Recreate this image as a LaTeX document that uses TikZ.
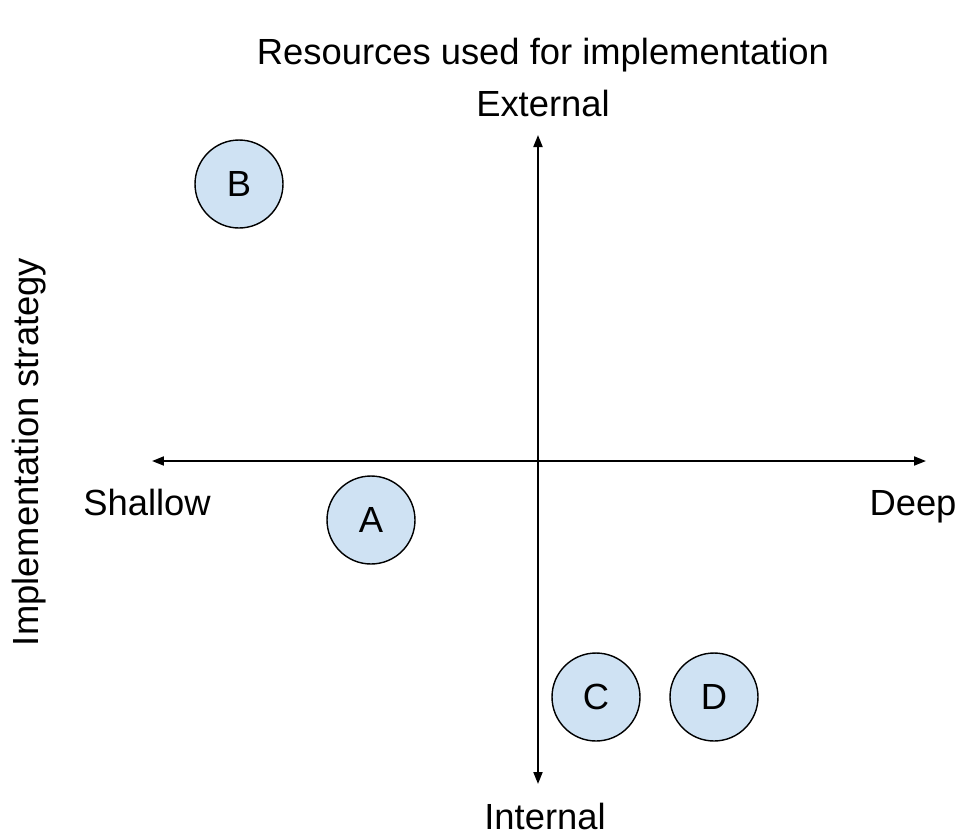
\documentclass[tikz,border=0pt]{standalone}
\usepackage{fontspec}
\setmainfont{Liberation Sans}
\usepackage{xcolor}
\usetikzlibrary{arrows.meta,positioning}
\definecolor{bubblefill}{HTML}{CFE2F3}

\begin{document}
\begin{tikzpicture}[x=0.02cm,y=-0.02cm,
  every node/.style={font=\fontsize{20.7}{24}\selectfont}]

  % Define styles
  \tikzset{bubble/.style={draw, circle, fill=bubblefill, line width=0.8pt, minimum size=1.76cm, inner sep=0pt}}
  \tikzset{axisline/.style={line width=1.1pt, -{Triangle[length=0.24cm,width=0.18cm]}}}

  \useasboundingbox (0,0) rectangle (957,836);

  % Axis ends
  \coordinate (o) at (538,461);
  \coordinate (left) at (152,461);
  \coordinate (right) at (926,461);
  \coordinate (top) at (538,135);
  \coordinate (bottom) at (538,784);

  \draw[axisline] (o) -- (left);
  \draw[axisline] (o) -- (right);
  \draw[axisline] (o) -- (top);
  \draw[axisline] (o) -- (bottom);

  % Labels
  \node (title) at (543,55) {Resources used for implementation};
  \node (external) at (543,103) {External};
  \node (internal) at (545,816) {Internal};
  \node[anchor=base] (shallow) at (147,515) {Shallow};
  \node[anchor=base] (deep) at (913,515) {Deep};
  \node[rotate=90] (strategy) at (29,452) {Implementation strategy};

  % Bubbles
  \node[bubble] (B) at (239,184) {B};
  \node[bubble] (A) at (371,520) {A};
  \node[bubble] (C) at (596,697) {C};
  \node[bubble] (D) at (714,697) {D};

\end{tikzpicture}
\end{document}
